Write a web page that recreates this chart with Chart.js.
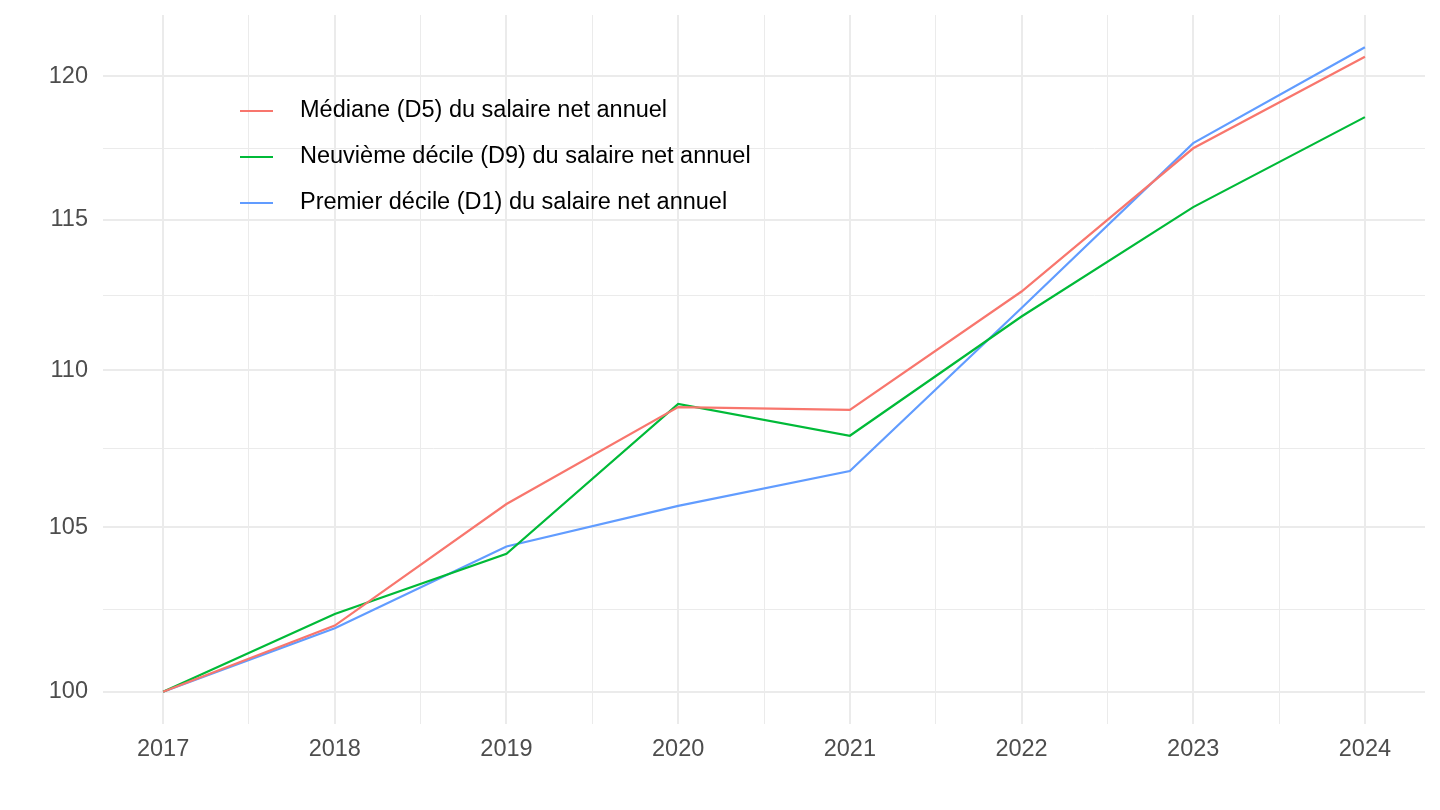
<!DOCTYPE html>
<html lang="fr">
<head>
<meta charset="utf-8">
<title>Salaire net annuel</title>
<script src="https://cdn.jsdelivr.net/npm/chart.js@4.4.1/dist/chart.umd.min.js"></script>
<style>
  html, body { margin: 0; padding: 0; background: #fff; }
  #wrap { width: 1440px; height: 810px; position: relative; }
</style>
</head>
<body>
<div id="wrap"><canvas id="graf"></canvas></div>
<script>
"use strict";

const annees = [2017, 2018, 2019, 2020, 2021, 2022, 2023, 2024];
const mediane = [100, 101.98, 105.72, 108.80, 108.71, 112.59, 117.47, 120.70];
const neuviemeDecile = [100, 102.33, 104.17, 108.90, 107.88, 111.76, 115.44, 118.56];
const premierDecile = [100, 101.90, 104.40, 105.66, 106.76, 112.04, 117.65, 121.04];

const xMajeurs = [2017, 2018, 2019, 2020, 2021, 2022, 2023, 2024];
const xMineurs = [2017.5, 2018.5, 2019.5, 2020.5, 2021.5, 2022.5, 2023.5];
const yMajeurs = [100, 105, 110, 115, 120];

const series = [
  { label: "Médiane (D5) du salaire net annuel", data: mediane, couleur: "#F8766D" },
  { label: "Neuvième décile (D9) du salaire net annuel", data: neuviemeDecile, couleur: "#00BA38" },
  { label: "Premier décile (D1) du salaire net annuel", data: premierDecile, couleur: "#619CFF" }
];

const police = "'Liberation Sans', Arial, sans-serif";

// mineurs du log : milieu géométrique entre deux majeurs
const yMineurs = [];
for (let i = 0; i < yMajeurs.length - 1; i++) yMineurs.push(Math.sqrt(yMajeurs[i] * yMajeurs[i + 1]));

// expansion de 5 % comme ggplot
const tous = series.flatMap(s => s.data);
const lmin = Math.log(Math.min(...tous)), lmax = Math.log(Math.max(...tous));
const yMin = Math.exp(lmin - 0.05 * (lmax - lmin));
const yMax = Math.exp(lmax + 0.05 * (lmax - lmin));
const xEtendue = annees[annees.length - 1] - annees[0];
const xMin = annees[0] - 0.05 * xEtendue;
const xMax = annees[annees.length - 1] + 0.05 * xEtendue;

const estMajeur = (liste, v) => liste.some(m => Math.abs(m - v) < 1e-6);

const legendeInterne = {
  id: "legendeInterne",
  afterDraw(chart) {
    const ctx = chart.ctx;
    ctx.save();
    ctx.font = "23.5px " + police;
    ctx.textBaseline = "middle";
    chart.data.datasets.forEach((ds, i) => {
      const y = 111 + i * 46;
      ctx.strokeStyle = ds.borderColor;
      ctx.lineWidth = 2;
      ctx.beginPath();
      ctx.moveTo(240, y);
      ctx.lineTo(273, y);
      ctx.stroke();
      ctx.fillStyle = "#000";
      ctx.fillText(ds.label, 300, y);
    });
    ctx.restore();
  }
};

new Chart(document.getElementById("graf").getContext("2d"), {
  type: "line",
  data: {
    datasets: series.map(s => ({
      label: s.label,
      data: s.data.map((v, i) => ({ x: annees[i], y: v })),
      borderColor: s.couleur,
      backgroundColor: s.couleur,
      borderWidth: 2.2,
      pointRadius: 0,
      tension: 0
    }))
  },
  options: {
    responsive: true,
    maintainAspectRatio: false,
    animation: false,
    devicePixelRatio: 1,
    layout: { padding: { left: 0, right: 15, top: 15, bottom: 0 } },
    plugins: { legend: { display: false }, tooltip: { enabled: false } },
    scales: {
      x: {
        type: "linear",
        min: xMin,
        max: xMax,
        afterBuildTicks: axis => {
          axis.ticks = [...xMajeurs, ...xMineurs].sort((a, b) => a - b).map(v => ({ value: v }));
        },
        afterFit: scale => { scale.height = 86; },
        border: { display: false },
        grid: {
          drawTicks: false,
          color: "#EBEBEB",
          lineWidth: c => (estMajeur(xMajeurs, c.tick.value) ? 2 : 1)
        },
        ticks: {
          padding: 11,
          color: "#4D4D4D",
          font: { family: police, size: 23.5 },
          maxRotation: 0,
          autoSkip: false,
          callback: v => (estMajeur(xMajeurs, v) ? String(v) : "")
        }
      },
      y: {
        type: "logarithmic",
        min: yMin,
        max: yMax,
        afterBuildTicks: axis => {
          axis.ticks = [...yMajeurs, ...yMineurs].sort((a, b) => a - b).map(v => ({ value: v }));
        },
        afterFit: scale => {
          scale.width = 103;
          scale.paddingTop = 0;
          scale.paddingBottom = 0;
        },
        border: { display: false },
        grid: {
          drawTicks: false,
          color: "#EBEBEB",
          lineWidth: c => (estMajeur(yMajeurs, c.tick.value) ? 2 : 1)
        },
        ticks: {
          padding: 15,
          color: "#4D4D4D",
          font: { family: police, size: 23.5 },
          autoSkip: false,
          callback: v => (estMajeur(yMajeurs, v) ? String(v) : "")
        }
      }
    }
  },
  plugins: [legendeInterne]
});
</script>
</body>
</html>
